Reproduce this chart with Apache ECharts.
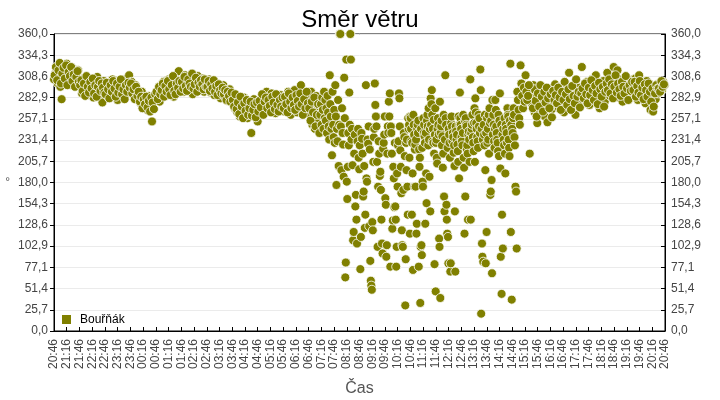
<!DOCTYPE html>
<html>
<head>
<meta charset="utf-8">
<script src="https://cdn.jsdelivr.net/npm/echarts@6/dist/echarts.min.js"></script>
<style>html,body{margin:0;padding:0;background:#fff}#c{width:720px;height:400px}</style>
</head>
<body>
<div id="c"></div>
<script>
// Time axis: minutes since 20:46 (first day) up to 20:46 next day
const startHour = 20, startMinute = 46, spanMinutes = 1440, tickMinutes = 30;
const yTickLabels = ['0,0','25,7','51,4','77,1','102,9','128,6','154,3','180,0','205,7','231,4','257,1','282,9','308,6','334,3','360,0'];
const seriesName = 'Bouřňák';

// Calm evening/night, readings every 3 minutes (two interleaved sets, offset 1.5 min)
const calmStep = 3;
const dir_2046 = [305,312,318,300,322,296,281,315,320,308,324,302,316,310,298,318,306,312,300,316];
const dir_2146 = [302,295,288,306,298,291,300,286,304,293,297,283,301,290,308,294,287,299,277,303];
const dir_2246 = [294,288,300,283,296,291,305,286,298,293,280,302,290,297,285,299,292,306,288,310];
const dir_2346 = [295,302,289,284,298,291,280,286,276,290,272,283,279,268,285,274,280,254,276,282];
const dir_0046 = [280,286,293,278,298,288,302,291,285,296,305,289,300,294,284,298,306,292,315,299];
const dir_0146 = [296,305,290,310,299,302,293,308,298,287,304,300,295,309,292,303,297,306,290,301];
const dir_0246 = [300,294,305,289,297,292,286,301,293,288,296,282,290,298,284,291,279,287,293,283];
const dir_0346 = [285,276,270,282,265,274,260,279,268,283,262,271,258,277,266,240,273,281,264,270];
const dir_0446 = [254,272,280,266,285,275,268,290,277,283,270,288,274,279,264,282,271,276,286,268];
const dir_0546 = [278,266,285,272,290,274,262,281,269,292,276,265,283,271,298,279,267,286,273,280];
const dir_0646 = [282,262,290,250,272,245,285,258,268];
const dir_2046b = [310,320,304,316,325,300,312,319,306,322,298,314,309,320,303,311,296,308,315,302];
const dir_2146b = [298,304,291,300,285,309,296,289,302,294,306,288,298,284,296,303,291,300,295,289];
const dir_2246b = [287,301,293,282,298,290,303,294,284,300,289,296,305,287,293,281,298,290,301,295];
const dir_2346b = [300,288,293,281,296,285,290,278,284,270,281,275,284,271,279,266,283,277,269,287];
const dir_0046b = [290,281,296,287,292,300,284,297,290,303,293,286,298,309,291,287,300,295,303,290];
const dir_0146b = [302,294,308,297,291,305,300,296,312,294,299,307,290,301,296,304,299,293,305,296];
const dir_0246b = [296,303,291,299,294,304,290,297,286,299,292,288,295,287,292,280,290,285,278,289];
const dir_0346b = [280,272,287,269,277,263,284,272,258,276,267,280,262,270,278,261,268,275,259,277];
const dir_0446b = [266,279,271,287,262,278,283,270,280,273,265,284,277,269,287,274,266,280,272,283];
const dir_0546b = [270,284,275,265,288,278,270,283,274,268,286,279,272,288,275,262,281,270,290,276];
const dir_0646b = [270,255,278,265,283,248,262,275,240];
const calmNight = [
  [0, dir_2046],[60, dir_2146],[120, dir_2246],[180, dir_2346],[240, dir_0046],
  [300, dir_0146],[360, dir_0246],[420, dir_0346],[480, dir_0446],[540, dir_0546],[600, dir_0646],
  [1.5, dir_2046b],[61.5, dir_2146b],[121.5, dir_2246b],[181.5, dir_2346b],[241.5, dir_0046b],
  [301.5, dir_0146b],[361.5, dir_0246b],[421.5, dir_0346b],[481.5, dir_0446b],[541.5, dir_0546b],[601.5, dir_0646b]
];

// Storm period 07:13 - 15:28, readings grouped in ~12 minute slices
const stormStart = 627, stormSlice = 11.79;
const stormSlices = [
  [262,275,250,283,268,245,290,258],
  [280,255,270,240,285,265,248,232,310],
  [275,260,245,213,290,250,235,268,228],
  [298,260,177,245,230,280,200,250,360],
  [360,248,195,270,240,226,187,307,258],
  [65,83,329,181,160,199,240,225,289,250],
  [360,329,232,245,201,110,120,215,238],
  [151,165,135,106,230,245,210,196,225],
  [75,114,240,233,215,163,169,200,125],
  [141,298,185,181,232,227,248,127,220],
  [85,61,55,50,132,122,205,235,245,300],
  [274,260,248,205,102,175,230,215,188],
  [193,171,135,106,94,221,228,238,260],
  [161,153,90,104,215,248,240,278,260,288],
  [78,248,240,215,124,134,199,185,150,228],
  [151,135,78,102,191,175,225,230,288,282,248],
  [219,199,167,122,104,102,171,240,235,212],
  [31,87,228,195,232,175,141,258,245,250,210,118],
  [260,258,245,230,141,228,191,74,262,250,238,175,220],
  [226,175,232,118,130,245,250,240,255,78,220,199,210],
  [34,102,245,104,92,222,181,175,258,240,250,236,228],
  [130,240,191,155,255,262,248,225,270,232,187,245],
  [145,282,250,275,292,262,230,245,228,256,215,81,238],
  [270,48,228,232,210,203,245,258,250,238,112,102,278],
  [40,240,248,255,225,236,198,215,262,163,145,232],
  [310,258,250,153,135,118,222,114,82,245,238,228,210],
  [72,82,252,260,248,230,240,235,216,225,200,145],
  [72,248,242,232,238,226,218,205,260,185,250,289],
  [258,250,245,235,230,225,240,262,210,198,118,255],
  [163,258,250,248,220,225,215,135,238,242,232,205,305],
  [305,135,240,245,250,262,235,228,218,252,270,205],
  [282,265,252,245,235,230,222,262,248,258,240],
  [317,292,21,245,106,90,232,84,250,238,225,262],
  [195,82,240,120,258,228,245,232,262,215,270,252],
  [165,169,255,183,70,280,238,262,250,230,222,245],
  [280,268,248,240,232,228,218,262,212,255,288],
  [197,90,250,45,141,238,100,245,232,225,258,215],
  [191,250,245,240,228,270,262,260,232,222,212,255],
  [324,120,250,38,245,240,258,270,262,235,225],
  [175,169,100,290,280,268,258,250],
  [322,300,285,270,295,278],
  [310,290,280,285,298,215]
];

// Calm afternoon/evening, readings every 3 minutes (two interleaved sets)
const dir_1530 = [290,275,298,265,285,252,292,280,270,296,283,260,288,253,278,294,268,286,275,299];
const dir_1630 = [282,290,270,296,276,288,265,300,284,278,313,292,272,286,298,262,289,280,295,275];
const dir_1730 = [320,288,296,280,302,291,274,298,285,306,290,310,282,294,270,299,287,303,278,292];
const dir_1830 = [313,296,285,302,290,320,288,299,316,283,305,294,278,300,290,308,286,297,282,304];
const dir_1930 = [298,287,306,292,280,310,295,284,300,290,276,303,288,296,268,285,266,293,281,299];
const dir_2030 = [288,296,300,292,302,298];
const dir_1530b = [283,270,293,279,260,288,272,298,284,266,290,277,295,282,270,287,259,291,280,286];
const dir_1630b = [276,295,283,268,290,280,302,287,274,293,281,268,297,285,276,305,284,290,271,288];
const dir_1730b = [294,282,300,287,276,295,286,304,292,280,297,288,275,301,293,284,296,272,290,300];
const dir_1830b = [292,305,288,299,282,296,310,289,300,293,285,302,296,288,309,294,280,298,291,302];
const dir_1930b = [292,302,284,297,289,303,286,295,281,299,292,284,300,290,278,294,272,288,298,294];
const dir_2030b = [294,290,303,296,299,303];
const calmDay = [
  [1124, dir_1530],[1184, dir_1630],[1244, dir_1730],[1304, dir_1830],[1364, dir_1930],[1424, dir_2030],
  [1125.5, dir_1530b],[1185.5, dir_1630b],[1245.5, dir_1730b],[1305.5, dir_1830b],[1365.5, dir_1930b],[1425.5, dir_2030b]
];

const points = [];
calmNight.concat(calmDay).forEach(([s, arr]) => arr.forEach((v, i) => points.push([s + i * calmStep, v])));
stormSlices.forEach((arr, k) => arr.forEach((v, i) => points.push([stormStart + k * stormSlice + (i + 0.5) * stormSlice / arr.length, v])));

function fmtTime(v) {
  const t = (startHour * 60 + startMinute + Math.round(v)) % 1440;
  const h = Math.floor(t / 60), m = t % 60;
  return (h < 10 ? '0' : '') + h + ':' + (m < 10 ? '0' : '') + m;
}
const yInterval = 360 / (yTickLabels.length - 1);
function fmtY(v) { return yTickLabels[Math.round(v / yInterval)]; }

const FONT = 'Liberation Sans, Arial, sans-serif';
const yBase = {
  type: 'value', min: 0, max: 360, interval: yInterval,
  axisLine: { show: true, lineStyle: { color: '#000' } },
  axisTick: { show: true, length: 4, lineStyle: { color: '#000' } },
  axisLabel: { formatter: fmtY, color: '#444', fontSize: 12, fontFamily: FONT, margin: 6 }
};
const chart = echarts.init(document.getElementById('c'), null, { renderer: 'canvas' });
chart.setOption({
  animation: false,
  backgroundColor: '#fff',
  title: { text: 'Směr větru', left: 'center', top: 3, textStyle: { fontSize: 24, fontWeight: 'normal', color: '#000', fontFamily: FONT } },
  grid: { left: 54, right: 55, top: 34, bottom: 69, containLabel: false, outerBoundsMode: 'none', show: true, borderColor: '#000', borderWidth: 1, backgroundColor: 'transparent' },
  legend: {
    left: 55, top: 308, icon: 'rect', itemWidth: 11, itemHeight: 11,
    textStyle: { fontSize: 12, color: '#000', fontFamily: FONT, padding: [0, 0, 0, 3] },
    data: [seriesName]
  },
  xAxis: {
    type: 'value', min: 0, max: spanMinutes, interval: tickMinutes,
    name: 'Čas', nameLocation: 'middle', nameGap: 50,
    nameTextStyle: { fontSize: 16, color: '#555', fontFamily: FONT },
    axisLine: { show: true, lineStyle: { color: '#000' } },
    axisTick: { show: true, inside: true, length: 4, lineStyle: { color: '#000' } },
    splitLine: { show: false },
    axisLabel: { formatter: fmtTime, rotate: 90, color: '#444', fontSize: 12, fontFamily: FONT, margin: 8, showMinLabel: true, showMaxLabel: true }
  },
  yAxis: [
    Object.assign({}, yBase, {
      position: 'left',
      name: '°', nameLocation: 'middle', nameRotate: 0, nameGap: 44,
      nameTextStyle: { fontSize: 12, color: '#555', fontFamily: FONT },
      splitLine: { show: true, lineStyle: { color: '#ebebeb', width: 1 } }
    }),
    Object.assign({}, yBase, {
      position: 'right',
      axisTick: { show: true, inside: true, length: 4, lineStyle: { color: '#000' } },
      splitLine: { show: false }
    })
  ],
  series: [{
    name: seriesName, type: 'scatter', data: points, yAxisIndex: 0,
    symbol: 'circle', symbolSize: 9,
    itemStyle: { color: '#808000', borderColor: '#fff', borderWidth: 0.8, opacity: 1 }
  }]
});
</script>
</body>
</html>
